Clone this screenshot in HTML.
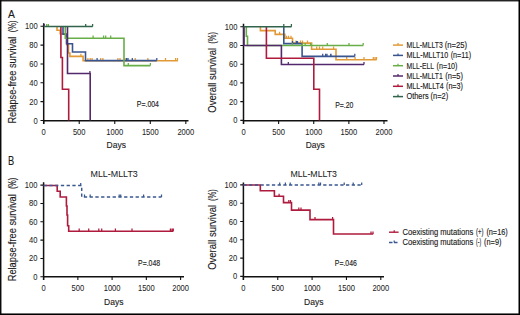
<!DOCTYPE html>
<html><head><meta charset="utf-8"><style>
html,body{margin:0;padding:0;background:#fff;}
svg{display:block;}
text{font-family:"Liberation Sans",sans-serif;fill:#1c1c1c;stroke:#1c1c1c;stroke-width:0.14px;}
.tl{stroke-width:0.05px;}
</style></head><body>
<svg width="520" height="315" viewBox="0 0 520 315">
<rect x="0" y="0" width="520" height="315" fill="#fff"/>
<path d="M43.7,23.3V124.0M42.95,120.75H188.5" stroke="#111" stroke-width="1.5" fill="none"/>
<path d="M40.50,26.30H43.7 M40.50,45.14H43.7 M40.50,63.98H43.7 M40.50,82.82H43.7 M40.50,101.66H43.7 M40.50,120.50H43.7 M43.70,120.5v3.5 M79.23,120.5v3.5 M114.76,120.5v3.5 M150.29,120.5v3.5 M185.82,120.5v3.5" stroke="#111" stroke-width="1.1" fill="none"/>
<text x="37.6" y="29.3" font-size="8.6" text-anchor="end" textLength="12.63" lengthAdjust="spacingAndGlyphs" class="tl">100</text>
<text x="37.6" y="48.14" font-size="8.6" text-anchor="end" textLength="8.42" lengthAdjust="spacingAndGlyphs" class="tl">80</text>
<text x="37.6" y="66.98" font-size="8.6" text-anchor="end" textLength="8.42" lengthAdjust="spacingAndGlyphs" class="tl">60</text>
<text x="37.6" y="85.82" font-size="8.6" text-anchor="end" textLength="8.42" lengthAdjust="spacingAndGlyphs" class="tl">40</text>
<text x="37.6" y="104.66" font-size="8.6" text-anchor="end" textLength="8.42" lengthAdjust="spacingAndGlyphs" class="tl">20</text>
<text x="37.6" y="123.5" font-size="8.6" text-anchor="end" textLength="4.21" lengthAdjust="spacingAndGlyphs" class="tl">0</text>
<text x="43.7" y="134.8" font-size="8.6" text-anchor="middle" textLength="4.21" lengthAdjust="spacingAndGlyphs" class="tl">0</text>
<text x="79.23" y="134.8" font-size="8.6" text-anchor="middle" textLength="12.63" lengthAdjust="spacingAndGlyphs" class="tl">500</text>
<text x="114.76" y="134.8" font-size="8.6" text-anchor="middle" textLength="16.83" lengthAdjust="spacingAndGlyphs" class="tl">1000</text>
<text x="150.29" y="134.8" font-size="8.6" text-anchor="middle" textLength="16.83" lengthAdjust="spacingAndGlyphs" class="tl">1500</text>
<text x="185.82" y="134.8" font-size="8.6" text-anchor="middle" textLength="16.83" lengthAdjust="spacingAndGlyphs" class="tl">2000</text>
<path d="M57,26.5V30.2H60.2V33.7H66.8V44.7H68.5V53H69.9V56.4H83.1V60.7H177.8" stroke="#E29A36" stroke-width="1.6" fill="none" />
<path d="M80.9,56.4v-2.6" stroke="#E29A36" stroke-width="1.25" fill="none"/>
<path d="M87.9,60.7v-2.6 M90.2,60.7v-2.6 M92.1,60.7v-2.6 M100.7,60.7v-2.6 M102.9,60.7v-2.6 M117.9,60.7v-2.6 M120,60.7v-2.6 M125,60.7v-2.6 M135.2,60.7v-2.6 M147.9,60.7v-2.6 M165.5,60.7v-2.6 M175.6,60.7v-2.6 M177.5,60.7v-2.6" stroke="#E29A36" stroke-width="1.25" fill="none"/>
<path d="M63,26.5V34.3H66.5V43.7H72.5V52H85.5V60.6H156.8" stroke="#39558F" stroke-width="1.6" fill="none" />
<path d="M97.1,60.6v-2.6 M126.5,60.6v-2.6 M128,60.6v-2.6 M132.3,60.6v-2.6 M156.8,60.6v-2.6" stroke="#39558F" stroke-width="1.25" fill="none"/>
<path d="M65.3,26.5V38.2H124V65.6H150.4" stroke="#68AE48" stroke-width="1.6" fill="none" />
<path d="M46.7,26.5v-2.6 M48.4,26.5v-2.6" stroke="#68AE48" stroke-width="1.25" fill="none"/>
<path d="M93.1,38.2v-2.6 M103.6,38.2v-2.6 M105.7,38.2v-2.6 M110.7,38.2v-2.6" stroke="#68AE48" stroke-width="1.25" fill="none"/>
<path d="M128.3,65.6v-2.6 M150.4,65.6v-2.6" stroke="#68AE48" stroke-width="1.25" fill="none"/>
<path d="M67.5,26.5V73.5H90.2V120.5" stroke="#54296B" stroke-width="1.6" fill="none" />
<path d="M44.2,26.5v-2.6" stroke="#54296B" stroke-width="1.25" fill="none"/>
<path d="M89.9,73.5v-2.6" stroke="#54296B" stroke-width="1.25" fill="none"/>
<path d="M60.9,26.5V57.5H62.4V89.3H68.7V120.5" stroke="#AE1B3D" stroke-width="1.6" fill="none" />
<path d="M43.7,26.4H92.7" stroke="#31644B" stroke-width="1.45" fill="none" />
<path d="M85.7,26.5v-2.6 M92.6,26.5v-2.6" stroke="#31644B" stroke-width="1.25" fill="none"/>
<text x="136.80" y="106.6" font-size="8.6" textLength="22.18" lengthAdjust="spacingAndGlyphs" >P=.004</text>
<text x="106.60" y="148.4" font-size="9.8" textLength="19.34" lengthAdjust="spacingAndGlyphs" >Days</text>
<text x="8" y="18.1" font-size="11.5" text-anchor="start" textLength="6.9" lengthAdjust="spacingAndGlyphs" >A</text>
<text transform="translate(16.4,123.9) rotate(-90)" x="0.30" y="0" font-size="10.2" textLength="86.92" lengthAdjust="spacingAndGlyphs" >Relapse-free survival</text>
<text transform="translate(16.4,32.5) rotate(-90)" x="0.30" y="0" font-size="10.2" textLength="11.86" lengthAdjust="spacingAndGlyphs" >(%)</text>
<path d="M243.5,23.8V123.9M242.75,120.65H387.5" stroke="#111" stroke-width="1.5" fill="none"/>
<path d="M240.30,26.70H243.5 M240.30,45.44H243.5 M240.30,64.18H243.5 M240.30,82.92H243.5 M240.30,101.66H243.5 M240.30,120.40H243.5 M243.50,120.4v3.5 M278.62,120.4v3.5 M313.74,120.4v3.5 M348.86,120.4v3.5 M383.98,120.4v3.5" stroke="#111" stroke-width="1.1" fill="none"/>
<text x="237.4" y="29.7" font-size="8.6" text-anchor="end" textLength="12.63" lengthAdjust="spacingAndGlyphs" class="tl">100</text>
<text x="237.4" y="48.44" font-size="8.6" text-anchor="end" textLength="8.42" lengthAdjust="spacingAndGlyphs" class="tl">80</text>
<text x="237.4" y="67.18" font-size="8.6" text-anchor="end" textLength="8.42" lengthAdjust="spacingAndGlyphs" class="tl">60</text>
<text x="237.4" y="85.92" font-size="8.6" text-anchor="end" textLength="8.42" lengthAdjust="spacingAndGlyphs" class="tl">40</text>
<text x="237.4" y="104.66" font-size="8.6" text-anchor="end" textLength="8.42" lengthAdjust="spacingAndGlyphs" class="tl">20</text>
<text x="237.4" y="123.4" font-size="8.6" text-anchor="end" textLength="4.21" lengthAdjust="spacingAndGlyphs" class="tl">0</text>
<text x="243.5" y="134.8" font-size="8.6" text-anchor="middle" textLength="4.21" lengthAdjust="spacingAndGlyphs" class="tl">0</text>
<text x="278.62" y="134.8" font-size="8.6" text-anchor="middle" textLength="12.63" lengthAdjust="spacingAndGlyphs" class="tl">500</text>
<text x="313.74" y="134.8" font-size="8.6" text-anchor="middle" textLength="16.83" lengthAdjust="spacingAndGlyphs" class="tl">1000</text>
<text x="348.86" y="134.8" font-size="8.6" text-anchor="middle" textLength="16.83" lengthAdjust="spacingAndGlyphs" class="tl">1500</text>
<text x="383.98" y="134.8" font-size="8.6" text-anchor="middle" textLength="16.83" lengthAdjust="spacingAndGlyphs" class="tl">2000</text>
<path d="M260.4,26.7V30.6H275.2V34.4H284.8V38.3H292.5V43.1H311.6V49.2H336V59.7H376.7" stroke="#E29A36" stroke-width="1.6" fill="none" />
<path d="M279.6,34.4v-2.6" stroke="#E29A36" stroke-width="1.25" fill="none"/>
<path d="M286.5,38.3v-2.6 M288.5,38.3v-2.6 M291,38.3v-2.6" stroke="#E29A36" stroke-width="1.25" fill="none"/>
<path d="M296,43.1v-2.6 M300.5,43.1v-2.6 M302.5,43.1v-2.6 M307.5,43.1v-2.6" stroke="#E29A36" stroke-width="1.25" fill="none"/>
<path d="M316.7,49.2v-2.6 M319.5,49.2v-2.6 M322.7,49.2v-2.6 M333.6,49.2v-2.6" stroke="#E29A36" stroke-width="1.25" fill="none"/>
<path d="M346.7,59.7v-2.6 M355.1,59.7v-2.6 M364,59.7v-2.6 M373.3,59.7v-2.6 M375,59.7v-2.6 M376.5,59.7v-2.6" stroke="#E29A36" stroke-width="1.25" fill="none"/>
<path d="M283.8,26.7V43.6H302.1V56.4H354.8" stroke="#39558F" stroke-width="1.6" fill="none" />
<path d="M292.5,43.6v-2.6 M296.5,43.6v-2.6 M297.5,43.6v-2.6" stroke="#39558F" stroke-width="1.25" fill="none"/>
<path d="M322.7,56.4v-2.6 M325.6,56.4v-2.6 M327,56.4v-2.6 M330.7,56.4v-2.6 M331,56.4v-2.6 M354.8,56.4v-2.6" stroke="#39558F" stroke-width="1.25" fill="none"/>
<path d="M246.3,26.7V36.3H247.5V45.5H363.2" stroke="#68AE48" stroke-width="1.6" fill="none" />
<path d="M292.3,45.5v-2.6 M302.3,45.5v-2.6 M305.2,45.5v-2.6 M310.6,45.5v-2.6 M327.3,45.5v-2.6 M349,45.5v-2.6 M363.2,45.5v-2.6" stroke="#68AE48" stroke-width="1.25" fill="none"/>
<path d="M244,26.7V45.5H281.4V64.5H364" stroke="#54296B" stroke-width="1.6" fill="none" />
<path d="M288.3,64.5v-2.6 M364,64.5v-2.6" stroke="#54296B" stroke-width="1.25" fill="none"/>
<path d="M266.4,26.7V58.3H313.8V89.3H319.5V120.4" stroke="#AE1B3D" stroke-width="1.6" fill="none" />
<path d="M243.5,26.7H291.5" stroke="#31644B" stroke-width="1.45" fill="none" />
<path d="M283.8,26.7v-2.6 M291.4,26.7v-2.6" stroke="#31644B" stroke-width="1.25" fill="none"/>
<text x="335.20" y="107.7" font-size="8.6" textLength="18.21" lengthAdjust="spacingAndGlyphs" >P=.20</text>
<text x="305.70" y="148.4" font-size="9.8" textLength="19.09" lengthAdjust="spacingAndGlyphs" >Days</text>
<text transform="translate(216.4,113.0) rotate(-90)" x="0.30" y="0" font-size="10.2" textLength="64.84" lengthAdjust="spacingAndGlyphs" >Overall survival</text>
<text transform="translate(216.4,44.1) rotate(-90)" x="0.30" y="0" font-size="10.2" textLength="11.86" lengthAdjust="spacingAndGlyphs" >(%)</text>
<path d="M393,45.1H403" stroke="#E29A36" stroke-width="1.5" fill="none" />
<path d="M398,45.1v-2.0" stroke="#E29A36" stroke-width="1.25" fill="none"/>
<text x="406.50" y="47.9" font-size="8.3" textLength="36.17" lengthAdjust="spacingAndGlyphs" >MLL-MLLT3</text>
<text x="444.70" y="47.9" font-size="8.3" textLength="22.39" lengthAdjust="spacingAndGlyphs" >(n=25)</text>
<path d="M393,55.4H403" stroke="#39558F" stroke-width="1.5" fill="none" />
<path d="M398,55.4v-2.0" stroke="#39558F" stroke-width="1.25" fill="none"/>
<text x="406.50" y="58.2" font-size="8.3" textLength="41.61" lengthAdjust="spacingAndGlyphs" >MLL-MLLT10</text>
<text x="450.70" y="58.2" font-size="8.3" textLength="20.33" lengthAdjust="spacingAndGlyphs" >(n=11)</text>
<path d="M393,65.7H403" stroke="#68AE48" stroke-width="1.5" fill="none" />
<path d="M398,65.7v-2.0" stroke="#68AE48" stroke-width="1.25" fill="none"/>
<text x="406.50" y="68.5" font-size="8.3" textLength="27.48" lengthAdjust="spacingAndGlyphs" >MLL-ELL</text>
<text x="436.60" y="68.5" font-size="8.3" textLength="20.89" lengthAdjust="spacingAndGlyphs" >(n=10)</text>
<path d="M393,76.0H403" stroke="#54296B" stroke-width="1.5" fill="none" />
<path d="M398,76.0v-2.0" stroke="#54296B" stroke-width="1.25" fill="none"/>
<text x="406.50" y="78.8" font-size="8.3" textLength="36.17" lengthAdjust="spacingAndGlyphs" >MLL-MLLT1</text>
<text x="445.30" y="78.8" font-size="8.3" textLength="17.62" lengthAdjust="spacingAndGlyphs" >(n=5)</text>
<path d="M393,86.3H403" stroke="#AE1B3D" stroke-width="1.5" fill="none" />
<path d="M398,86.3v-2.0" stroke="#AE1B3D" stroke-width="1.25" fill="none"/>
<text x="406.50" y="89.1" font-size="8.3" textLength="37.27" lengthAdjust="spacingAndGlyphs" >MLL-MLLT4</text>
<text x="446.00" y="89.1" font-size="8.3" textLength="16.92" lengthAdjust="spacingAndGlyphs" >(n=3)</text>
<path d="M393,96.6H403" stroke="#31644B" stroke-width="1.5" fill="none" />
<path d="M398,96.6v-2.0" stroke="#31644B" stroke-width="1.25" fill="none"/>
<text x="406.50" y="99.4" font-size="8.3" textLength="22.11" lengthAdjust="spacingAndGlyphs" >Others</text>
<text x="430.50" y="99.4" font-size="8.3" textLength="17.62" lengthAdjust="spacingAndGlyphs" >(n=2)</text>
<path d="M43.6,182.3V280.0M42.85,276.75H184" stroke="#111" stroke-width="1.5" fill="none"/>
<path d="M40.40,185.10H43.6 M40.40,203.44H43.6 M40.40,221.78H43.6 M40.40,240.12H43.6 M40.40,258.46H43.6 M40.40,276.80H43.6 M43.60,276.5v3.5 M77.85,276.5v3.5 M112.10,276.5v3.5 M146.35,276.5v3.5 M180.60,276.5v3.5" stroke="#111" stroke-width="1.1" fill="none"/>
<text x="37.4" y="188.1" font-size="8.6" text-anchor="end" textLength="12.63" lengthAdjust="spacingAndGlyphs" class="tl">100</text>
<text x="37.4" y="206.44" font-size="8.6" text-anchor="end" textLength="8.42" lengthAdjust="spacingAndGlyphs" class="tl">80</text>
<text x="37.4" y="224.78" font-size="8.6" text-anchor="end" textLength="8.42" lengthAdjust="spacingAndGlyphs" class="tl">60</text>
<text x="37.4" y="243.12" font-size="8.6" text-anchor="end" textLength="8.42" lengthAdjust="spacingAndGlyphs" class="tl">40</text>
<text x="37.4" y="261.46" font-size="8.6" text-anchor="end" textLength="8.42" lengthAdjust="spacingAndGlyphs" class="tl">20</text>
<text x="37.4" y="279.8" font-size="8.6" text-anchor="end" textLength="4.21" lengthAdjust="spacingAndGlyphs" class="tl">0</text>
<text x="43.6" y="290.6" font-size="8.6" text-anchor="middle" textLength="4.21" lengthAdjust="spacingAndGlyphs" class="tl">0</text>
<text x="77.85" y="290.6" font-size="8.6" text-anchor="middle" textLength="12.63" lengthAdjust="spacingAndGlyphs" class="tl">500</text>
<text x="112.1" y="290.6" font-size="8.6" text-anchor="middle" textLength="16.83" lengthAdjust="spacingAndGlyphs" class="tl">1000</text>
<text x="146.35" y="290.6" font-size="8.6" text-anchor="middle" textLength="16.83" lengthAdjust="spacingAndGlyphs" class="tl">1500</text>
<text x="180.6" y="290.6" font-size="8.6" text-anchor="middle" textLength="16.83" lengthAdjust="spacingAndGlyphs" class="tl">2000</text>
<path d="M43.6,185.5H57.2V191.3H60.2V197H66.4V206H67V215H67.6V225.7H68.7V231.2H173.3" stroke="#AE1B3D" stroke-width="1.6" fill="none" />
<path d="M79.2,231.2v-2.6 M88.7,231.2v-2.6 M98.8,231.2v-2.6 M101.7,231.2v-2.6 M115.4,231.2v-2.6 M132,231.2v-2.6 M170.4,231.2v-2.6 M172,231.2v-2.6 M173.3,231.2v-2.6" stroke="#AE1B3D" stroke-width="1.25" fill="none"/>
<path d="M43.6,185.5H81.7V197H161.5" stroke="#3A5790" stroke-width="1.45" fill="none" stroke-dasharray="3.3 2.45"/>
<path d="M80.7,185.5v-2.6" stroke="#3A5790" stroke-width="1.25" fill="none"/>
<path d="M84.5,197v-2.6 M90.2,197v-2.6 M119.2,197v-2.6 M120.7,197v-2.6 M143.6,197v-2.6 M161.5,197v-2.6" stroke="#3A5790" stroke-width="1.25" fill="none"/>
<text x="138.05" y="266.2" font-size="8.6" textLength="22.03" lengthAdjust="spacingAndGlyphs" >P=.048</text>
<text x="104.10" y="305.0" font-size="9.8" textLength="19.39" lengthAdjust="spacingAndGlyphs" >Days</text>
<text x="90.50" y="176.5" font-size="9.8" textLength="47.26" lengthAdjust="spacingAndGlyphs" class="tl">MLL-MLLT3</text>
<text x="8.1" y="164.5" font-size="12" text-anchor="start" textLength="6.2" lengthAdjust="spacingAndGlyphs" >B</text>
<text transform="translate(16.4,281.6) rotate(-90)" x="0.30" y="0" font-size="10.2" textLength="87.12" lengthAdjust="spacingAndGlyphs" >Relapse-free survival</text>
<text transform="translate(16.4,189.4) rotate(-90)" x="0.30" y="0" font-size="10.2" textLength="11.36" lengthAdjust="spacingAndGlyphs" >(%)</text>
<path d="M243.4,182.6V279.9M242.65,276.65H384" stroke="#111" stroke-width="1.5" fill="none"/>
<path d="M240.20,184.90H243.4 M240.20,203.20H243.4 M240.20,221.50H243.4 M240.20,239.80H243.4 M240.20,258.10H243.4 M240.20,276.40H243.4 M243.40,276.4v3.5 M277.75,276.4v3.5 M312.10,276.4v3.5 M346.45,276.4v3.5 M380.80,276.4v3.5" stroke="#111" stroke-width="1.1" fill="none"/>
<text x="237.2" y="187.9" font-size="8.6" text-anchor="end" textLength="12.63" lengthAdjust="spacingAndGlyphs" class="tl">100</text>
<text x="237.2" y="206.2" font-size="8.6" text-anchor="end" textLength="8.42" lengthAdjust="spacingAndGlyphs" class="tl">80</text>
<text x="237.2" y="224.5" font-size="8.6" text-anchor="end" textLength="8.42" lengthAdjust="spacingAndGlyphs" class="tl">60</text>
<text x="237.2" y="242.8" font-size="8.6" text-anchor="end" textLength="8.42" lengthAdjust="spacingAndGlyphs" class="tl">40</text>
<text x="237.2" y="261.1" font-size="8.6" text-anchor="end" textLength="8.42" lengthAdjust="spacingAndGlyphs" class="tl">20</text>
<text x="237.2" y="279.4" font-size="8.6" text-anchor="end" textLength="4.21" lengthAdjust="spacingAndGlyphs" class="tl">0</text>
<text x="243.4" y="290.6" font-size="8.6" text-anchor="middle" textLength="4.21" lengthAdjust="spacingAndGlyphs" class="tl">0</text>
<text x="277.75" y="290.6" font-size="8.6" text-anchor="middle" textLength="12.63" lengthAdjust="spacingAndGlyphs" class="tl">500</text>
<text x="312.1" y="290.6" font-size="8.6" text-anchor="middle" textLength="16.83" lengthAdjust="spacingAndGlyphs" class="tl">1000</text>
<text x="346.45" y="290.6" font-size="8.6" text-anchor="middle" textLength="16.83" lengthAdjust="spacingAndGlyphs" class="tl">1500</text>
<text x="380.8" y="290.6" font-size="8.6" text-anchor="middle" textLength="16.83" lengthAdjust="spacingAndGlyphs" class="tl">2000</text>
<path d="M243.4,185H260.3V190.8H274.4V196.3H283.5V202.6H291.5V210.1H310V219.6H333.5V234H373.2" stroke="#AE1B3D" stroke-width="1.6" fill="none" />
<path d="M279.1,196.3v-2.6" stroke="#AE1B3D" stroke-width="1.25" fill="none"/>
<path d="M288.8,202.6v-2.6 M290.5,202.6v-2.6" stroke="#AE1B3D" stroke-width="1.25" fill="none"/>
<path d="M298.8,210.1v-2.6 M301,210.1v-2.6" stroke="#AE1B3D" stroke-width="1.25" fill="none"/>
<path d="M315,219.6v-2.6 M332.6,219.6v-2.6" stroke="#AE1B3D" stroke-width="1.25" fill="none"/>
<path d="M371,234v-2.6 M373,234v-2.6" stroke="#AE1B3D" stroke-width="1.25" fill="none"/>
<path d="M243.4,185H361.7" stroke="#3A5790" stroke-width="1.45" fill="none" stroke-dasharray="3.3 2.4"/>
<path d="M279.7,185v-2.6 M285.4,185v-2.6 M290.2,185v-2.6 M318.8,185v-2.6 M320.5,185v-2.6 M344.2,185v-2.6 M353.2,185v-2.6 M361.7,185v-2.6" stroke="#3A5790" stroke-width="1.25" fill="none"/>
<text x="334.80" y="265.8" font-size="8.6" textLength="22.08" lengthAdjust="spacingAndGlyphs" >P=.046</text>
<text x="304.05" y="305.0" font-size="9.8" textLength="19.44" lengthAdjust="spacingAndGlyphs" >Days</text>
<text x="290.40" y="176.5" font-size="9.8" textLength="46.56" lengthAdjust="spacingAndGlyphs" class="tl">MLL-MLLT3</text>
<text transform="translate(216.4,270.1) rotate(-90)" x="0.30" y="0" font-size="10.2" textLength="64.94" lengthAdjust="spacingAndGlyphs" >Overall survival</text>
<text transform="translate(216.4,201.4) rotate(-90)" x="0.30" y="0" font-size="10.2" textLength="11.86" lengthAdjust="spacingAndGlyphs" >(%)</text>
<path d="M389,232.2H398.6" stroke="#AE1B3D" stroke-width="1.4" fill="none" />
<path d="M394.2,232.2v-2.0" stroke="#AE1B3D" stroke-width="1.25" fill="none"/>
<text x="402.60" y="234.5" font-size="8.2" textLength="70.61" lengthAdjust="spacingAndGlyphs" >Coexisting mutations</text>
<text x="476.10" y="234.5" font-size="8.2" textLength="7.40" lengthAdjust="spacingAndGlyphs" >(+)</text>
<text x="486.40" y="234.5" font-size="8.2" textLength="21.29" lengthAdjust="spacingAndGlyphs" >(n=16)</text>
<path d="M389,242.5H398.6" stroke="#3A5790" stroke-width="1.4" fill="none" stroke-dasharray="3.5 1.5"/>
<path d="M394.2,242.5v-2.0" stroke="#3A5790" stroke-width="1.25" fill="none"/>
<text x="402.60" y="244.9" font-size="8.2" textLength="70.61" lengthAdjust="spacingAndGlyphs" >Coexisting mutations</text>
<text x="476.10" y="244.9" font-size="8.2" textLength="5.09" lengthAdjust="spacingAndGlyphs" >(-)</text>
<text x="484.10" y="244.9" font-size="8.2" textLength="17.32" lengthAdjust="spacingAndGlyphs" >(n=9)</text>
<rect x="0" y="0" width="520" height="1.45" fill="#232323"/><rect x="0" y="0" width="1.45" height="315" fill="#0a0a0a"/><rect x="518.5" y="0" width="1.5" height="315" fill="#000"/><rect x="0" y="313.45" width="520" height="1.55" fill="#000"/>
</svg>
</body></html>
